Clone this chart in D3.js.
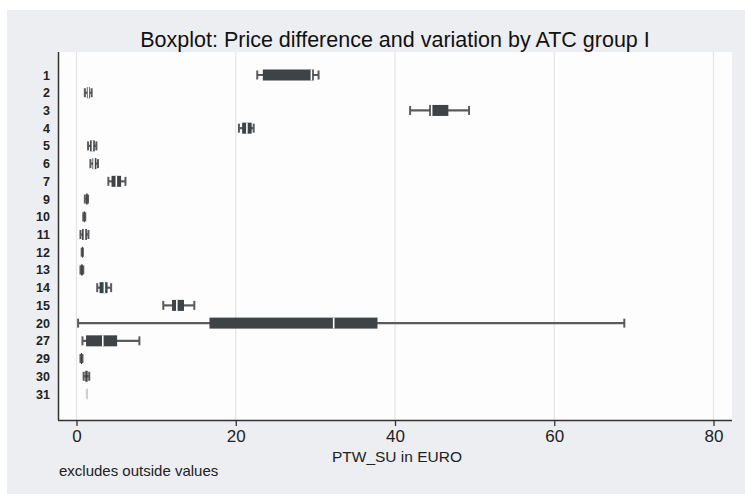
<!DOCTYPE html>
<html><head><meta charset="utf-8">
<script src="https://cdn.jsdelivr.net/npm/d3@7/dist/d3.min.js"></script>
<style>body{margin:0;background:#fff}svg{display:block}text{font-family:"Liberation Sans",Arial,sans-serif}</style>
</head><body><svg id="c" width="745" height="494"></svg>
<script>
const categories = ["1","2","3","4","5","6","7","9","10","11","12","13","14","15","20","27","29","30","31"];
const whiskerLow = [22.7, 1.05, 41.9, 20.4, 1.45, 1.75, 4.0, 1.05, 0.85, 0.5, 0.65, 0.5, 2.6, 10.9, 0.2, 0.75, 0.5, 0.9, 1.3];
const q1         = [23.4, 1.3, 44.3, 20.8, 1.7, 2.0, 4.4, 1.2, 0.9, 0.7, 0.7, 0.55, 2.9, 12.0, 16.7, 1.2, 0.55, 1.1, 1.3];
const median     = [29.5, 1.5, 44.6, 21.4, 2.0, 2.2, 5.0, 1.3, 1.0, 1.0, 0.7, 0.7, 3.5, 12.6, 32.3, 3.3, 0.6, 1.25, 1.3];
const q3         = [29.8, 1.7, 46.7, 22.0, 2.3, 2.5, 5.6, 1.4, 1.05, 1.3, 0.75, 0.8, 3.9, 13.5, 37.8, 5.1, 0.7, 1.4, 1.3];
const whiskerHigh= [30.4, 1.9, 49.3, 22.25, 2.5, 2.7, 6.15, 1.45, 1.1, 1.5, 0.8, 0.85, 4.35, 14.8, 68.8, 7.9, 0.75, 1.6, 1.3];
const xTicks = [0, 20, 40, 60, 80];

const svg = d3.select("#c");
svg.append("rect").attr("x",7).attr("y",10).attr("width",738).attr("height",484).attr("fill","#eceef2");
const L=58, R=732, T=52, B=420;
svg.append("rect").attr("x",L).attr("y",T).attr("width",R-L).attr("height",B-T).attr("fill","#fdfdfd");

const x = d3.scaleLinear().domain([0,80]).range([76.5,713.5]);
const y = d3.scalePoint().domain(categories).range([75,394]);

// gridlines
svg.append("g").selectAll("line").data(xTicks).join("line")
  .attr("x1",d=>x(d)).attr("x2",d=>x(d)).attr("y1",T).attr("y2",B)
  .attr("stroke","#e6e3e3").attr("stroke-width",1.2);

// title
svg.append("text").attr("x",395).attr("y",47).attr("text-anchor","middle")
  .attr("font-size",21.5).attr("fill","#111").text("Boxplot: Price difference and variation by ATC group I");

// axes
const xa = svg.append("g").attr("transform",`translate(0,${B})`)
  .call(d3.axisBottom(x).tickValues(xTicks).tickSize(6).tickPadding(4).tickFormat(d3.format("d")));
xa.select(".domain").attr("d",`M${L},0.5H${R}`).attr("stroke","#333").attr("stroke-width",1.5);
xa.selectAll(".tick line").attr("stroke","#333").attr("stroke-width",1.3);
xa.selectAll(".tick text").attr("font-size",17).attr("fill","#222").attr("font-family","Liberation Sans, Arial, sans-serif");

const ya = svg.append("g").attr("transform",`translate(${L},0)`)
  .call(d3.axisLeft(y).tickSize(0).tickPadding(8));
ya.select(".domain").attr("d",`M0.5,${T}V${B}`).attr("stroke","#333").attr("stroke-width",1.5);
ya.selectAll(".tick text").attr("font-size",12.5).attr("font-weight","bold").attr("fill","#222").attr("font-family","Liberation Sans, Arial, sans-serif");

svg.append("text").attr("x",397).attr("y",462).attr("text-anchor","middle")
  .attr("font-size",15.5).attr("fill","#222").text("PTW_SU in EURO");
svg.append("text").attr("x",59).attr("y",476)
  .attr("font-size",15).attr("fill","#222").text("excludes outside values");

// boxes
const data = categories.map((c,i)=>({c, lo:whiskerLow[i], q1:q1[i], med:median[i], q3:q3[i], hi:whiskerHigh[i]}));
const g = svg.append("g").selectAll("g").data(data).join("g")
  .attr("transform",d=>`translate(0,${y(d.c)})`)
  .attr("opacity",d=>d.c==="31"?0.25:1);
const wc = "#5c5a5a";
g.append("line").attr("x1",d=>x(d.lo)).attr("x2",d=>x(d.hi)).attr("stroke",wc).attr("stroke-width",2.2);
g.append("line").attr("x1",d=>x(d.lo)).attr("x2",d=>x(d.lo)).attr("y1",-4.5).attr("y2",4.5).attr("stroke",wc).attr("stroke-width",2);
g.append("line").attr("x1",d=>x(d.hi)).attr("x2",d=>x(d.hi)).attr("y1",-4.5).attr("y2",4.5).attr("stroke",wc).attr("stroke-width",2);
g.append("rect").attr("x",d=>x(d.q1)).attr("width",d=>Math.max(1,x(d.q3)-x(d.q1))).attr("y",-5.5).attr("height",11)
  .attr("fill","#3e4346");
g.filter(d=>x(d.q3)-x(d.q1)>2.5).append("line").attr("x1",d=>x(d.med)).attr("x2",d=>x(d.med)).attr("y1",-5.5).attr("y2",5.5)
  .attr("stroke","#fff").attr("stroke-width",1.6);
</script></body></html>
